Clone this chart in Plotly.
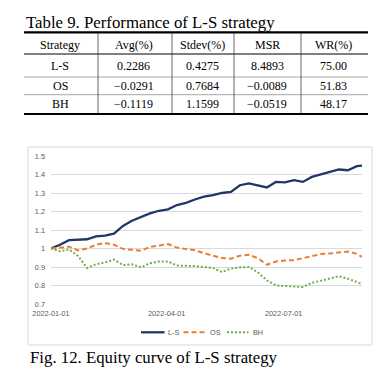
import pandas as pd
import plotly.graph_objects as go

# ---------------- data ----------------
dates = list(pd.date_range("2022-01-01", periods=35, freq="7D").strftime("%Y-%m-%d")) + ["2022-08-31"]

ls_vals = [1.000, 1.020, 1.045, 1.047, 1.050, 1.065, 1.070, 1.080, 1.122, 1.150,
           1.172, 1.190, 1.204, 1.212, 1.235, 1.247, 1.265, 1.280, 1.289, 1.300,
           1.306, 1.342, 1.352, 1.342, 1.330, 1.360, 1.357, 1.369, 1.360, 1.387,
           1.400, 1.410, 1.427, 1.423, 1.445, 1.448]
os_vals = [1.000, 1.005, 1.010, 0.990, 1.000, 1.020, 1.030, 1.020, 0.998, 0.993,
           0.988, 1.009, 1.015, 1.024, 1.005, 0.998, 0.990, 0.975, 0.961, 0.948,
           0.945, 0.961, 0.966, 0.948, 0.912, 0.930, 0.935, 0.937, 0.948, 0.961,
           0.970, 0.973, 0.977, 0.984, 0.971, 0.954]
bh_vals = [1.000, 0.985, 0.995, 0.960, 0.895, 0.915, 0.925, 0.940, 0.910, 0.915,
           0.898, 0.920, 0.930, 0.930, 0.908, 0.907, 0.905, 0.900, 0.895, 0.873,
           0.891, 0.898, 0.900, 0.871, 0.828, 0.800, 0.796, 0.792, 0.792, 0.814,
           0.826, 0.841, 0.850, 0.837, 0.817, 0.809]

series_names = ["L-S", "OS", "BH"]

y_ticks = [0.7, 0.8, 0.9, 1.0, 1.1, 1.2, 1.3, 1.4, 1.5]
y_tick_text = ["0.7", "0.8", "0.9", "1", "1.1", "1.2", "1.3", "1.4", "1.5"]
x_ticks = ["2022-01-01", "2022-04-01", "2022-07-01"]

table_title = "Table 9. Performance of L-S strategy"
table_header = ["Strategy", "Avg(%)", "Stdev(%)", "MSR", "WR(%)"]
table_strategy = ["L-S", "OS", "BH"]
table_avg = ["0.2286", "-0.0291", "-0.1119"]
table_stdev = ["0.4275", "0.7684", "1.1599"]
table_msr = ["8.4893", "-0.0089", "-0.0519"]
table_wr = ["75.00", "51.83", "48.17"]
fig_caption = "Fig. 12. Equity curve of L-S strategy"

# ---------------- layout helpers ----------------
W, H = 384, 378
L, R, T, B = 51, 362, 156, 304


def px(x):
    return (x - L) / (R - L)


def py(y):
    return (B - y) / (B - T)


colors = ["#203864", "#ED7D31", "#70AD47"]
dashes = ["solid", "5px,3px", "2px,2px"]
widths = [2.3, 2.0, 2.0]

fig = go.Figure()
for name, vals, c, d, w in zip(series_names, [ls_vals, os_vals, bh_vals], colors, dashes, widths):
    fig.add_trace(go.Scatter(x=dates, y=vals, mode="lines", name=name,
                             line=dict(color=c, dash=d, width=w), showlegend=False))

shapes = []
annotations = []

# chart border
shapes.append(dict(type="rect", xref="paper", yref="paper", x0=px(28), x1=px(372),
                   y0=py(345), y1=py(147), line=dict(color="#D9D9D9", width=1), layer="below"))

# custom legend
legend_items = [(141, 164.5, 165.5, "L-S"), (183.5, 205, 208, "OS"), (227, 248.5, 251, "BH")]
for (x0, x1, xt, lab), c, d, w in zip(legend_items, colors, dashes, widths):
    shapes.append(dict(type="line", xref="paper", yref="paper", x0=px(x0), x1=px(x1),
                       y0=py(332.3), y1=py(332.3), line=dict(color=c, dash=d, width=w)))
    annotations.append(dict(text=lab, xref="paper", yref="paper", x=px(xt), y=py(332.3),
                            xanchor="left", yanchor="middle", showarrow=False,
                            font=dict(family="Liberation Sans", size=7.3, color="#595959")))

# table lines
tx0, tx1 = 24, 368
for yline, wline, col in [(32.3, 2.2, "#000000"), (54, 1.0, "#000000"), (77, 0.7, "#808080"),
                          (94.7, 0.7, "#808080"), (114, 2.2, "#000000")]:
    shapes.append(dict(type="line", xref="paper", yref="paper", x0=px(tx0), x1=px(tx1),
                       y0=py(yline), y1=py(yline), line=dict(color=col, width=wline)))
for xline in [98, 172, 234, 301]:
    shapes.append(dict(type="line", xref="paper", yref="paper", x0=px(xline), x1=px(xline),
                       y0=py(33), y1=py(113.5), line=dict(color="#404040", width=0.8)))

serif = "Liberation Serif"
annotations.append(dict(text=table_title, xref="paper", yref="paper", x=px(24), y=py(22),
                        xanchor="left", yanchor="middle", showarrow=False,
                        font=dict(family=serif, size=16.8, color="#000000")))
annotations.append(dict(text=fig_caption, xref="paper", yref="paper", x=px(28), y=py(357.5),
                        xanchor="left", yanchor="middle", showarrow=False,
                        font=dict(family=serif, size=16.8, color="#000000")))

col_x = [60, 133.5, 202, 267, 333.5]
row_y = [44.5, 65.7, 85.5, 104.2]
table_cols = [table_strategy, table_avg, table_stdev, table_msr, table_wr]
for ci, cx in enumerate(col_x):
    cells = [table_header[ci]] + table_cols[ci]
    for ri, ry in enumerate(row_y):
        annotations.append(dict(text=cells[ri].replace("-", "\u2212") if (ri > 0 and ci > 0) else cells[ri],
                                xref="paper", yref="paper", x=px(cx), y=py(ry),
                                xanchor="center", yanchor="middle", showarrow=False,
                                font=dict(family=serif, size=12, color="#000000")))

fig.update_layout(
    width=W, height=H,
    margin=dict(l=L, r=W - R, t=T, b=H - B, pad=0),
    paper_bgcolor="white", plot_bgcolor="white",
    shapes=shapes, annotations=annotations,
    showlegend=False,
    xaxis=dict(range=["2022-01-01", "2022-08-31"], tickvals=x_ticks, ticktext=x_ticks,
               showgrid=False, zeroline=False, showline=False, ticks="",
               ticklabelstandoff=4,
               tickfont=dict(family="Liberation Sans", size=7.3, color="#595959")),
    yaxis=dict(range=[0.7, 1.5], tickvals=y_ticks, ticktext=y_tick_text,
               showgrid=True, gridcolor="#D9D9D9", gridwidth=1, zeroline=False,
               showline=False, ticks="", ticklabelstandoff=5,
               tickfont=dict(family="Liberation Sans", size=7.3, color="#595959")),
)

fig.write_html("out.html", config={"displayModeBar": False},
               post_script="document.body.style.margin='0';")
